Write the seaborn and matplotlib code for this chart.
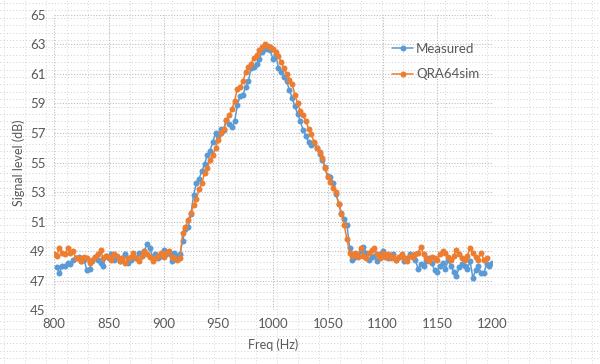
import numpy as np
import pandas as pd
import matplotlib
matplotlib.use("Agg")
import matplotlib.pyplot as plt
import seaborn as sns

# -----------------------------
# data
# -----------------------------
freq_meas = np.arange(802.5, 1200.1, 2.5)
measured = [
    47.9, 47.5, 48.0, 48.0, 48.2, 48.1, 48.4, 48.5,
    48.6, 48.3, 48.4, 47.7, 47.8, 48.3, 48.6, 48.4,
    48.2, 48.0, 48.7, 48.5, 48.8, 48.4, 48.6, 48.3,
    48.5, 48.8, 48.2, 48.4, 48.6, 48.5, 48.9, 48.7,
    49.0, 49.5, 49.2, 48.6, 48.8, 48.5, 48.7, 49.1,
    48.8, 48.9, 48.3, 48.9, 48.7, 48.8, 49.7, 50.5,
    50.6, 51.5, 52.8, 53.6, 53.9, 54.4, 54.9, 55.5,
    55.8, 56.4, 57.0, 56.8, 57.3, 57.2, 57.9, 57.6,
    57.4, 57.8, 58.9, 59.5, 59.6, 60.1, 60.5, 61.4,
    61.5, 61.7, 62.0, 62.5, 62.7, 62.7, 62.6, 62.0,
    62.3, 61.4, 61.1, 60.8, 60.5, 59.9, 59.4, 58.8,
    58.3, 57.8, 57.2, 56.8, 56.4, 56.2, 56.3, 56.0,
    55.6, 55.2, 54.7, 54.1, 54.0, 53.6, 52.9, 52.2,
    51.6, 51.2, 50.8, 49.2, 48.4, 48.6, 48.7, 49.0,
    49.3, 48.9, 48.4, 48.6, 48.7, 48.3, 48.8, 49.0,
    48.7, 48.5, 48.6, 48.8, 48.4, 48.6, 48.7, 48.3,
    48.5, 48.8, 48.6, 48.4, 47.8, 48.1, 48.0, 48.3,
    48.5, 48.2, 47.7, 47.6, 48.0, 48.2, 47.8, 48.4,
    48.0, 47.6, 47.3, 47.9, 48.1, 48.0, 47.8, 48.3,
    47.2, 47.7, 48.0, 47.5, 47.5, 48.1, 48.0, 48.2,
]

freq_sim = np.arange(800, 1195.1, 2.5)
qra64sim = [
    48.8, 48.7, 49.2, 48.9, 48.8, 49.2, 48.9, 49.0,
    48.5, 48.5, 48.3, 48.6, 48.5, 48.2, 48.4, 48.6,
    48.8, 49.1, 48.5, 48.7, 48.6, 48.4, 48.8, 48.7,
    48.3, 48.5, 48.2, 48.5, 48.6, 48.9, 48.5, 48.3,
    48.7, 49.0, 48.8, 48.6, 48.3, 48.5, 48.7, 48.9,
    48.6, 48.9, 49.0, 48.6, 48.5, 48.4, 48.5, 50.2,
    50.6, 51.1, 51.6, 52.1, 52.5, 53.2, 53.6, 54.3,
    54.6, 55.2, 55.5, 56.0, 56.5, 57.0, 57.3, 57.9,
    58.2, 58.6, 59.2, 60.0, 60.1, 60.5, 61.1, 61.5,
    61.7, 62.1, 62.3, 62.6, 62.8, 63.0, 62.9, 62.8,
    62.7, 62.5, 62.2, 61.8, 61.4, 61.0, 60.6, 60.3,
    59.6, 59.0, 58.5, 58.2, 57.8, 57.3, 56.9, 56.4,
    56.0, 55.7, 55.3, 54.6, 54.0, 53.7, 53.3, 53.0,
    52.2, 51.5, 50.8, 49.8, 48.9, 48.7, 48.9, 48.6,
    49.2, 48.7, 48.5, 48.9, 49.1, 49.2, 48.8, 48.5,
    48.9, 48.6, 48.8, 48.5, 48.7, 48.4, 48.6, 48.8,
    48.5, 48.3, 48.7, 48.6, 48.8, 48.9, 49.3, 48.8,
    48.5, 48.3, 48.6, 48.5, 48.4, 48.8, 49.0, 48.9,
    48.6, 48.4, 48.7, 49.1, 48.8, 48.5, 48.4, 48.7,
    49.2, 48.9, 48.6, 48.4, 48.9, 48.4, 48.5,
]

y_ticks = list(range(45, 66, 2))
x_ticks = list(range(800, 1201, 50))

df = pd.concat([
    pd.DataFrame({"freq": freq_meas, "level": measured, "series": "Measured"}),
    pd.DataFrame({"freq": freq_sim, "level": qra64sim, "series": "QRA64sim"}),
])

# -----------------------------
# style
# -----------------------------
sns.set_style("white")
plt.rcParams["font.family"] = ["Lato", "DejaVu Sans"]

fig = plt.figure(figsize=(6.0, 3.64), dpi=100)

# sheet-like dotted background
bg = fig.add_axes([0, 0, 1, 1], zorder=0)
bg.set_xlim(0, 600)
bg.set_ylim(364, 0)
for yy in np.arange(3, 364, 7.4):
    bg.axhline(yy, color="#cfcfcf", lw=0.7, ls=(0, (1, 2.3)))
for xx in np.arange(4, 600, 21):
    bg.axvline(xx, color="#d8d8d8", lw=0.7, ls=(0, (1, 2.3)))
bg.axis("off")

ax = fig.add_axes([0.09, 0.148, 0.73, 0.811], zorder=1)
ax.patch.set_alpha(0)

sns.lineplot(
    data=df, x="freq", y="level", hue="series",
    palette={"Measured": "#5B9BD5", "QRA64sim": "#ED7D31"},
    marker="o", markersize=4.3, markeredgewidth=0, linewidth=1.1,
    ax=ax, sort=False,
)

ax.set_xlim(800, 1200)
ax.set_ylim(45, 65)
ax.set_xticks(x_ticks)
ax.set_yticks(y_ticks)
ax.grid(True, color="#bdbdbd", lw=0.8, ls=(0, (1, 1.5)))
for s in ax.spines.values():
    s.set_visible(False)
ax.tick_params(axis="both", length=0, labelsize=9.5, colors="#595959", pad=6)

ax.set_xlabel("Freq (Hz)", fontsize=9, color="#595959", labelpad=6)
ax.set_ylabel("Signal level (dB)", fontsize=9, color="#595959", labelpad=4)

leg = ax.legend(
    loc="upper left", bbox_to_anchor=(0.745, 0.945), frameon=False,
    fontsize=9.5, labelcolor="#595959", handlelength=1.6, labelspacing=1.0,
    handletextpad=0.2,
)

fig.savefig("out.png", dpi=100)
